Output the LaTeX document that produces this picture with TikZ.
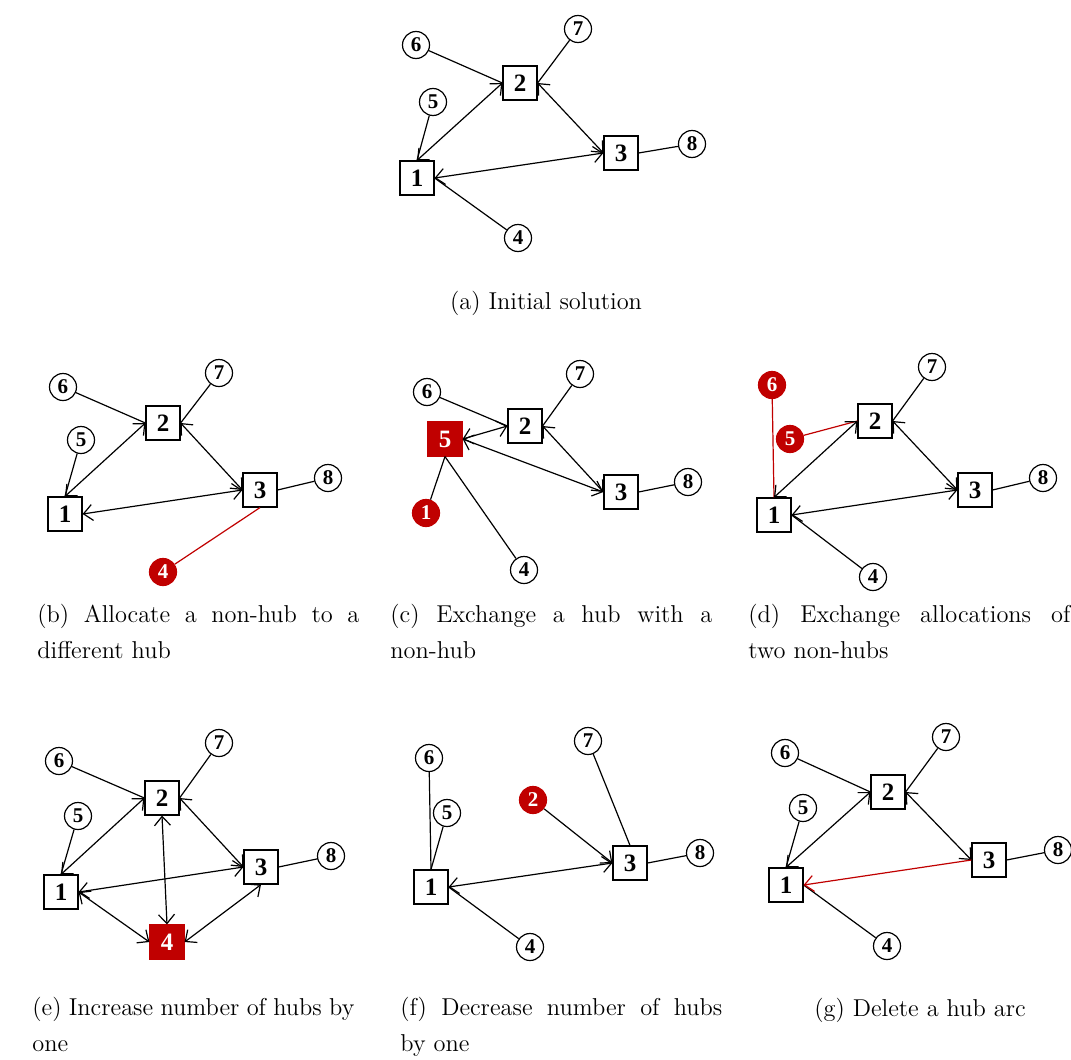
\documentclass[tikz,border=0pt]{standalone}
\usepackage{fontspec}
\newfontfamily\numfont{Liberation Serif}
\usetikzlibrary{arrows.meta}
\definecolor{hubred}{RGB}{192,0,0}
\newcommand\hubfont{\numfont\bfseries\fontsize{12.5}{12.5}\selectfont}
\newcommand\nhfont{\numfont\bfseries\fontsize{10.5}{10.5}\selectfont}
\newcommand\capfont{\fontsize{12.2}{18}\selectfont}
\newcommand\firstline[1]{\makebox[161pt][s]{#1}}
\begin{document}
\begin{tikzpicture}[x=0.5pt,y=-0.5pt,
  >={Straight Barb[length=4.5pt,width=8pt]},
  hub/.style={draw, rectangle, minimum size=17pt, inner sep=0pt, font=\hubfont, line width=0.6pt},
  nh/.style={draw, circle, minimum size=13.5pt, inner sep=0pt, font=\nhfont, line width=0.6pt},
  redhub/.style={hub, fill=hubred, draw=hubred, text=white},
  rednh/.style={nh, fill=hubred, draw=hubred, text=white},
  link/.style={line width=0.6pt},
  redlink/.style={link, draw=hubred},
  harc/.style={link, <->},
  captext/.style={font=\capfont, inner sep=0pt, align=left}]
\useasboundingbox (0,0) rectangle (1071,1060);

% (a)
\node[hub] (a1) at (417,178) {1};
\node[hub] (a2) at (520,83) {2};
\node[hub] (a3) at (621,153) {3};
\node[nh] (a4) at (518,238) {4};
\node[nh] (a5) at (433,102) {5};
\node[nh] (a6) at (416,45) {6};
\node[nh] (a7) at (578,29) {7};
\node[nh] (a8) at (692,144) {8};
\draw[link] (a6) -- (a2.west);
\draw[link] (a7) -- (a2.east);
\draw[link] (a5) -- (a1.north);
\draw[link] (a4) -- (a1.east);
\draw[link] (a3.east) -- (a8);
\draw[harc] (a1.north) -- (a2.west);
\draw[harc] (a2.east) -- (a3.west);
\draw[harc] (a1.east) -- (a3.west);
\node[captext, anchor=base] (capa) at (546,309) {(a) Initial solution};

% (b)
\node[hub] (b1) at (65,514) {1};
\node[hub] (b2) at (163,423) {2};
\node[hub] (b3) at (260,490) {3};
\node[rednh] (b4) at (163,572) {4};
\node[nh] (b5) at (81,440) {5};
\node[nh] (b6) at (63,387) {6};
\node[nh] (b7) at (219,373) {7};
\node[nh] (b8) at (328,478) {8};
\draw[link] (b6) -- (b2.west);
\draw[link] (b7) -- (b2.east);
\draw[link] (b5) -- (b1.north);
\draw[redlink] (b4) -- (b3.south);
\draw[link] (b3.east) -- (b8);
\draw[harc] (b1.north) -- (b2.west);
\draw[harc] (b2.east) -- (b3.west);
\draw[harc] (b1.east) -- (b3.west);
\node[captext, anchor=north west] (capb) at (37,604) {\firstline{(b) Allocate a non-hub to a}\\different hub};

% (c)
\node[rednh] (c1) at (426,513) {1};
\node[hub] (c2) at (525,426) {2};
\node[hub] (c3) at (621,492) {3};
\node[nh] (c4) at (524,570) {4};
\node[redhub] (c5) at (445,439) {5};
\node[nh] (c6) at (427,392) {6};
\node[nh] (c7) at (580,374) {7};
\node[nh] (c8) at (688,482) {8};
\draw[link] (c6) -- (c2.west);
\draw[link] (c7) -- (c2.east);
\draw[link] (c1) -- (c5.south);
\draw[link] (c4) -- (c5.south);
\draw[link] (c3.east) -- (c8);
\draw[harc] (c5.east) -- (c2.west);
\draw[harc] (c2.east) -- (c3.west);
\draw[harc] (c5.east) -- (c3.west);
\node[captext, anchor=north west] (capc) at (390,604) {\firstline{(c) Exchange a hub with a}\\non-hub};

% (d)
\node[hub] (d1) at (774,515) {1};
\node[hub] (d2) at (875,421) {2};
\node[hub] (d3) at (975,490) {3};
\node[nh] (d4) at (873,577) {4};
\node[rednh] (d5) at (790,439) {5};
\node[rednh] (d6) at (772,385) {6};
\node[nh] (d7) at (932,367) {7};
\node[nh] (d8) at (1043,478) {8};
\draw[redlink] (d6) -- (d1.north);
\draw[redlink] (d5) -- (d2.west);
\draw[link] (d7) -- (d2.east);
\draw[link] (d4) -- (d1.east);
\draw[link] (d3.east) -- (d8);
\draw[harc] (d1.north) -- (d2.west);
\draw[harc] (d2.east) -- (d3.west);
\draw[harc] (d1.east) -- (d3.west);
\node[captext, anchor=north west] (capd) at (748,604) {\firstline{(d) Exchange allocations of}\\two non-hubs};

% (e)
\node[hub] (e1) at (61,892) {1};
\node[hub] (e2) at (162,798) {2};
\node[hub] (e3) at (261,867) {3};
\node[redhub] (e4) at (167,942) {4};
\node[nh] (e5) at (78,816) {5};
\node[nh] (e6) at (59,761) {6};
\node[nh] (e7) at (219,743) {7};
\node[nh] (e8) at (331,856) {8};
\draw[link] (e6) -- (e2.west);
\draw[link] (e7) -- (e2.east);
\draw[link] (e5) -- (e1.north);
\draw[link] (e3.east) -- (e8);
\draw[harc] (e1.north) -- (e2.west);
\draw[harc] (e2.east) -- (e3.west);
\draw[harc] (e1.east) -- (e3.west);
\draw[harc] (e2.south) -- (e4.north);
\draw[harc] (e1.east) -- (e4.west);
\draw[harc] (e3.south) -- (e4.east);
\node[captext, anchor=north west] (cape) at (32,997) {\firstline{(e) Increase number of hubs by}\\one};

% (f)
\node[hub] (f1) at (431,887) {1};
\node[rednh] (f2) at (533,800) {2};
\node[hub] (f3) at (630,863) {3};
\node[nh] (f4) at (530,947) {4};
\node[nh] (f5) at (447,813) {5};
\node[nh] (f6) at (429,758) {6};
\node[nh] (f7) at (588,741) {7};
\node[nh] (f8) at (700,853) {8};
\draw[link] (f6) -- (f1.north);
\draw[link] (f5) -- (f1.north);
\draw[link] (f7) -- (f3.north);
\draw[link, ->] (f2) -- (f3.west);
\draw[link] (f3.east) -- (f8);
\draw[link] (f4) -- (f1.east);
\draw[harc] (f1.east) -- (f3.west);
\node[captext, anchor=north west] (capf) at (400,997) {\firstline{(f) Decrease number of hubs}\\by one};

% (g)
\node[hub] (g1) at (786,885) {1};
\node[hub] (g2) at (888,792) {2};
\node[hub] (g3) at (989,860) {3};
\node[nh] (g4) at (887,946) {4};
\node[nh] (g5) at (803,808) {5};
\node[nh] (g6) at (785,753) {6};
\node[nh] (g7) at (946,737) {7};
\node[nh] (g8) at (1058,850) {8};
\draw[link] (g6) -- (g2.west);
\draw[link] (g7) -- (g2.east);
\draw[link] (g5) -- (g1.north);
\draw[link] (g4) -- (g1.east);
\draw[link] (g3.east) -- (g8);
\draw[harc] (g1.north) -- (g2.west);
\draw[harc] (g2.east) -- (g3.west);
\draw[redlink, ->] (g3.west) -- (g1.east);
\node[captext, anchor=base] (capg) at (920,1016) {(g) Delete a hub arc};
\end{tikzpicture}
\end{document}
